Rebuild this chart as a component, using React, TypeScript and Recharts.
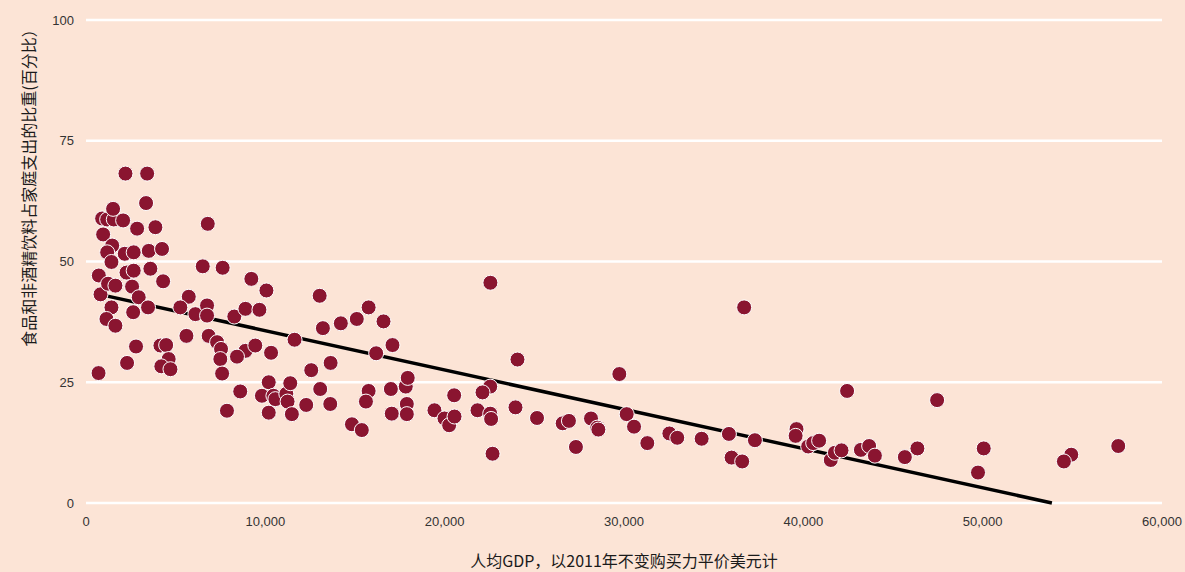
import { ScatterChart, Scatter, XAxis, YAxis, CartesianGrid, ReferenceLine, Label } from 'recharts'

// GDP per capita (PPP, constant 2011 int. $)
const gdp = [
  700, 715, 810, 900, 955, 1180, 1550, 2070, 1510, 2200,
  3410, 3350, 2850, 3870, 6790, 1460, 1180, 2160, 2660, 3500,
  4240, 1420, 2260, 2660, 3590, 4300, 6510, 7620, 1230, 1640,
  2570, 2940, 3460, 1420, 2630, 1140, 1640, 9220, 10060, 5730,
  5260, 6100, 6750, 6750, 8270, 8890, 9670, 5600, 6840, 7310,
  7530, 7490, 7590, 2790, 2290, 4150, 4470, 4610, 4200, 4710,
  8890, 9440, 8420, 10320, 8600, 10190, 9810, 10450, 13030, 11630,
  13210, 14210, 15100, 15760, 16590, 17090, 16180, 12560, 13640, 7860,
  10560, 11170, 11390, 11240, 10190, 11480, 12280, 13060, 13620, 14830,
  15380, 15760, 15610, 17000, 17830, 17940, 17890, 17050, 17890, 22550,
  24060, 29740, 22540, 22110, 20530, 19430, 19990, 20250, 20550, 21830,
  22540, 22590, 23950, 22670, 25150, 26580, 26930, 27320, 28160, 28510,
  28570, 30150, 36700, 42440, 30560, 31300, 32530, 32970, 34330, 35850,
  36000, 36590, 37300, 39620, 39570, 40270, 40550, 40880, 41530, 41760,
  42130, 43210, 43670, 43990, 47460, 45660, 46360, 50060, 49740, 54940,
  54530, 57560,
]

// share of food and non-alcoholic beverages in household spending (%)
const foodShare = [
  26.9, 47.1, 43.2, 58.9, 55.6, 58.7, 58.7, 58.5, 60.9, 68.2,
  68.2, 62.1, 56.8, 57.1, 57.8, 53.3, 51.9, 51.6, 51.9, 52.2,
  52.6, 49.9, 47.7, 48.1, 48.5, 45.9, 49.0, 48.7, 45.4, 45.0,
  44.8, 42.6, 40.5, 40.5, 39.5, 38.1, 36.7, 46.4, 44.0, 42.7,
  40.5, 39.1, 40.9, 38.8, 38.6, 40.2, 40.0, 34.6, 34.6, 33.3,
  31.9, 29.8, 26.8, 32.4, 29.0, 32.6, 32.7, 29.8, 28.3, 27.7,
  31.5, 32.6, 30.3, 31.1, 23.1, 25.0, 22.2, 22.2, 42.9, 33.8,
  36.2, 37.2, 38.1, 40.5, 37.6, 32.7, 31.0, 27.5, 29.0, 19.1,
  21.5, 22.6, 24.8, 21.0, 18.7, 18.4, 20.3, 23.6, 20.5, 16.3,
  15.1, 23.2, 21.0, 23.6, 24.1, 25.9, 20.5, 18.5, 18.4, 45.6,
  29.7, 26.7, 24.1, 22.9, 22.3, 19.2, 17.5, 16.1, 17.9, 19.2,
  18.5, 17.4, 19.8, 10.2, 17.6, 16.5, 17.0, 11.6, 17.5, 15.6,
  15.2, 18.4, 40.5, 23.2, 15.8, 12.4, 14.4, 13.5, 13.3, 14.3,
  9.4, 8.6, 13.0, 15.3, 13.9, 11.7, 12.4, 12.9, 8.9, 10.4,
  10.9, 11.0, 11.8, 9.8, 21.3, 9.5, 11.3, 11.3, 6.3, 10.0,
  8.6, 11.8,
]

// fitted line end points
const trendGdp = [750, 53860]
const trendShare = [43.2, 0]

const xTicks = [0, 10000, 20000, 30000, 40000, 50000, 60000]
const yTicks = [0, 25, 50, 75, 100]

const points = gdp.map((g, i) => ({ gdp: g, share: foodShare[i] }))

const tickStyle = { fontSize: 13, fill: '#333', fontFamily: '"Liberation Sans", Arial, sans-serif' }
const titleFont = '"Noto Sans CJK SC", "Noto Sans", sans-serif'

const Dot = (props: any) => (
  <circle cx={props.cx} cy={props.cy} r={7.5} fill="#8a1530" stroke="#ffffff" strokeWidth={1} />
)

export default function App() {
  return (
    <div style={{ position: 'fixed', left: 0, top: 0, width: 1185, height: 572, background: '#fce4d6' }}>
      <ScatterChart width={1185} height={572} margin={{ top: 20, right: 23, bottom: 0, left: 0 }}>
        <CartesianGrid vertical={false} stroke="#ffffff" strokeWidth={2.5} />
        <XAxis
          type="number"
          dataKey="gdp"
          domain={[0, 60000]}
          ticks={xTicks}
          tickFormatter={(v: number) => v.toLocaleString('en-US')}
          tick={tickStyle}
          axisLine={false}
          tickLine={false}
          tickSize={0}
          tickMargin={14}
          height={69}
        >
          <Label
            value="人均GDP，以2011年不变购买力平价美元计"
            position="insideBottom"
            offset={5}
            style={{ fontSize: 16, fill: '#1a1a1a', fontFamily: titleFont }}
          />
        </XAxis>
        <YAxis
          type="number"
          dataKey="share"
          domain={[0, 100]}
          ticks={yTicks}
          tick={tickStyle}
          axisLine={false}
          tickLine={false}
          tickSize={0}
          tickMargin={12}
          width={86}
          label={{
            content: () => (
              <text
                x={28}
                y={184}
                transform="rotate(-90 28 184)"
                textAnchor="middle"
                dominantBaseline="central"
                style={{ fontSize: 16, fill: '#1a1a1a', fontFamily: titleFont }}
              >
                食品和非酒精饮料占家庭支出的比重(百分比）
              </text>
            ),
          }}
        />
        <Scatter data={points} shape={<Dot />} isAnimationActive={false} />
        <ReferenceLine
          segment={[
            { x: trendGdp[0], y: trendShare[0] },
            { x: trendGdp[1], y: trendShare[1] },
          ]}
          stroke="#000000"
          strokeWidth={3.5}
        />
      </ScatterChart>
    </div>
  )
}
